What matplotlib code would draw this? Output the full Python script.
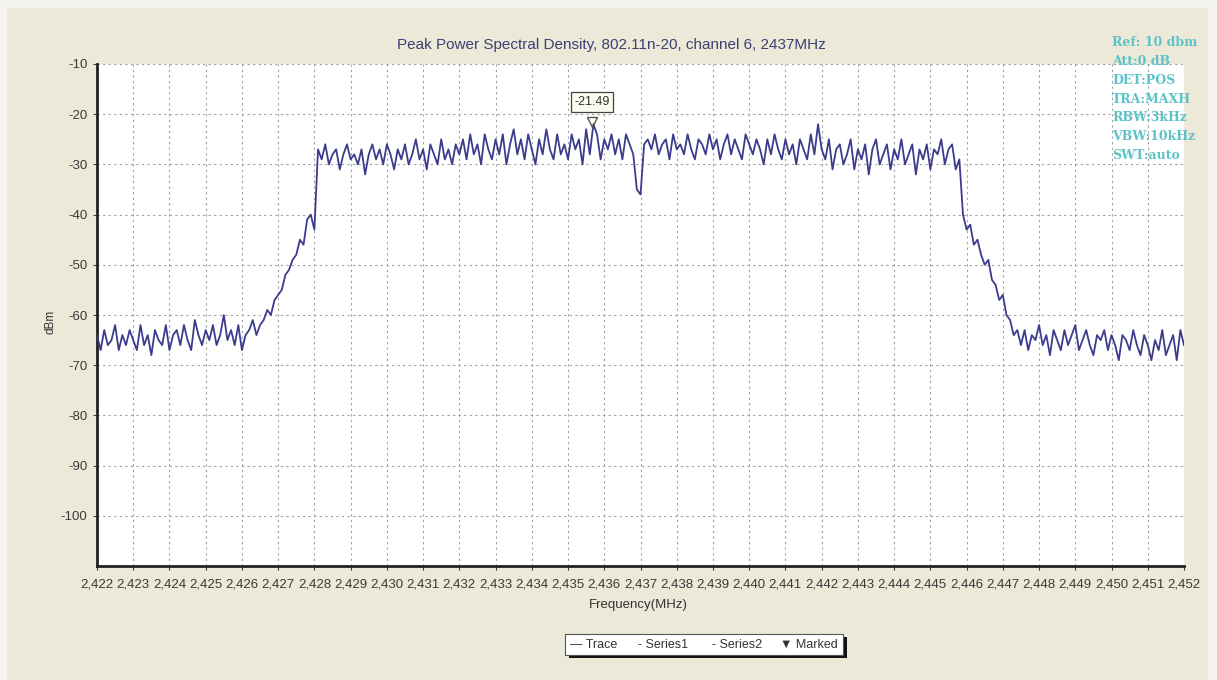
import numpy as np
import matplotlib
matplotlib.use("Agg")
import matplotlib.pyplot as plt
from matplotlib.patches import Rectangle
from matplotlib.ticker import FuncFormatter, MultipleLocator

# sweep grid (MHz)
F_START, F_STOP, F_STEP = 2422.0, 2452.0, 0.1

# trace values (dBm), one list per part of the sweep
floor_low = [-64, -67, -63, -66, -65, -62, -67, -64, -66, -63,
             -65, -67, -62, -66, -64, -68, -63, -65, -66, -62,
             -67, -64, -63, -66, -62, -65, -67, -61, -64, -66,
             -63, -65, -62, -66, -64, -60, -65, -63, -66, -62,
             -67, -64, -63, -61, -64, -62]                       # 2422.0 - 2426.5
rise = [-61, -59, -60, -57, -56, -55, -52, -51, -49, -48,
        -45, -46, -41, -40, -43]                                 # 2426.6 - 2428.0
plat_a = [-27, -29, -26, -30, -28, -27, -31, -28, -26, -29,
          -28, -30, -27, -32, -28, -26, -29, -27, -30, -26,
          -28, -31, -27, -29, -26, -30, -28, -25, -29, -27,
          -31, -26, -28, -30, -25, -29, -27, -30, -26, -28]      # 2428.1 - 2432.0
plat_b = [-25, -29, -24, -28, -26, -30, -24, -27, -29, -25,
          -28, -24, -30, -26, -23, -28, -25, -29, -24, -27,
          -30, -25, -28, -23, -27, -29, -24, -28, -26, -29,
          -24, -27, -25, -30, -23, -28, -22, -24, -29, -25,
          -27, -24, -28, -25, -29, -24, -26, -28]                # 2432.1 - 2436.8
dip = [-35, -36, -26]                                            # 2436.9 - 2437.1
plat_c = [-25, -27, -24, -28, -26, -25, -29, -24, -27, -26,
          -28, -24, -27, -29, -25, -26, -28, -24, -27, -25,
          -29, -26, -24, -28, -25, -27, -29, -24, -26, -28,
          -25, -27, -30, -25, -28, -24, -27, -29, -25, -28,
          -26, -30, -25, -27, -29, -24, -28, -22, -27]           # 2437.2 - 2442.0
plat_d = [-29, -25, -31, -27, -26, -30, -28, -25, -31, -27,
          -29, -26, -32, -27, -25, -30, -28, -26, -31, -27,
          -29, -25, -30, -28, -26, -32, -27, -29, -26, -31,
          -27, -28, -25, -30, -27, -26, -31, -29]                # 2442.1 - 2445.8
fall = [-40, -43, -42, -46, -45, -48, -50, -49, -53, -54,
        -57, -56, -60, -61, -64, -63]                            # 2445.9 - 2447.4
floor_high = [-66, -63, -67, -64, -65, -62, -66, -64, -68, -63,
              -65, -67, -63, -66, -64, -62, -67, -65, -63, -66,
              -68, -64, -65, -63, -67, -64, -66, -69, -64, -65,
              -67, -63, -66, -68, -64, -66, -69, -65, -67, -63,
              -68, -66, -64, -69, -63, -66]                      # 2447.5 - 2452.0

# marker
MARK_F, MARK_V = 2435.66, -21.49

TITLE = "Peak Power Spectral Density, 802.11n-20, channel 6, 2437MHz"
SETTINGS = ["Ref: 10 dbm", "Att:0 dB", "DET:POS", "TRA:MAXH",
            "RBW:3kHz", "VBW:10kHz", "SWT:auto"]
LEGEND = ["\u2014 Trace", "- Series1", "- Series2", "\u25BC Marked"]

level = np.array(floor_low + rise + plat_a + plat_b + dip + plat_c + plat_d + fall + floor_high, float)
freq = F_START + F_STEP * np.arange(len(level))

W, H = 1217, 680
plt.rcParams["font.family"] = ["Liberation Sans", "DejaVu Sans"]
plt.rcParams["axes.unicode_minus"] = False
fig = plt.figure(figsize=(W / 100, H / 100), dpi=100, facecolor="#F6F4EE")


def px(x, y):
    return x / W, 1 - y / H


# beige panel behind everything
fig.patches.append(Rectangle(px(7, 680), 1201 / W, 672 / H, transform=fig.transFigure,
                             facecolor="#ECE9D8", edgecolor="none", zorder=-5))

ax = fig.add_axes([97 / W, 1 - 566 / H, (1184 - 97) / W, (566 - 64) / H])
ax.set_zorder(1)
ax.set_facecolor("white")
ax.plot(freq, level, color="#3C3C8E", lw=1.3, zorder=3)
ax.set_xlim(F_START, F_STOP)
ax.set_ylim(-110, -10)

ax.xaxis.set_major_locator(MultipleLocator(1))
ax.xaxis.set_major_formatter(FuncFormatter(lambda v, p: f"{int(round(v)) // 1000},{int(round(v)) % 1000:03d}"))
ax.set_yticks(np.arange(-100, -9, 10))
ax.tick_params(labelsize=9.5, colors="#3A3A3A", length=3, width=0.8)
ax.tick_params(axis="x", pad=6)
ax.tick_params(axis="y", pad=4)
ax.grid(True, color="#A0A0A0", lw=0.8, ls=(0, (2, 3)))
for s in ("top", "right"):
    ax.spines[s].set_visible(False)
for s in ("left", "bottom"):
    ax.spines[s].set_linewidth(2)
    ax.spines[s].set_color("#222222")

# marker + readout box
ax.plot([MARK_F], [MARK_V], marker="v", ms=7, mfc="none", mec="#55553A", mew=1, zorder=4)
ax.text(MARK_F, -17.6, f"{MARK_V:.2f}", ha="center", va="center", fontsize=9, color="#333333",
        bbox=dict(boxstyle="square,pad=0.3", fc="#FBFBF0", ec="#444444", lw=0.9), zorder=5)

fig.text(*px(611, 45), TITLE, ha="center", va="center", fontsize=11, color="#3A4074")
fig.text(*px(638, 605), "Frequency(MHz)", ha="center", va="center", fontsize=9.5, color="#333333")
fig.text(*px(50, 322), "dBm", ha="center", va="center", rotation=90, fontsize=8.5, color="#333333")

for i, s in enumerate(SETTINGS):
    fig.text(*px(1112, 43 + i * 18.7), s, ha="left", va="center", fontsize=9, zorder=10,
             fontweight="bold", color="#5EC3C8", family="DejaVu Serif")

# legend box with drop shadow
fig.patches.append(Rectangle(px(569, 658), 278 / W, 21 / H, transform=fig.transFigure,
                             facecolor="#111111", edgecolor="none", zorder=2))
fig.patches.append(Rectangle(px(565, 655), 278 / W, 21 / H, transform=fig.transFigure,
                             facecolor="white", edgecolor="#555555", lw=0.8, zorder=3))
for x, s in zip((570, 638, 712, 780), LEGEND):
    fig.text(*px(x, 645), s, ha="left", va="center", fontsize=9, color="#333333", zorder=4)

fig.savefig("out.png", dpi=100, facecolor=fig.get_facecolor())
